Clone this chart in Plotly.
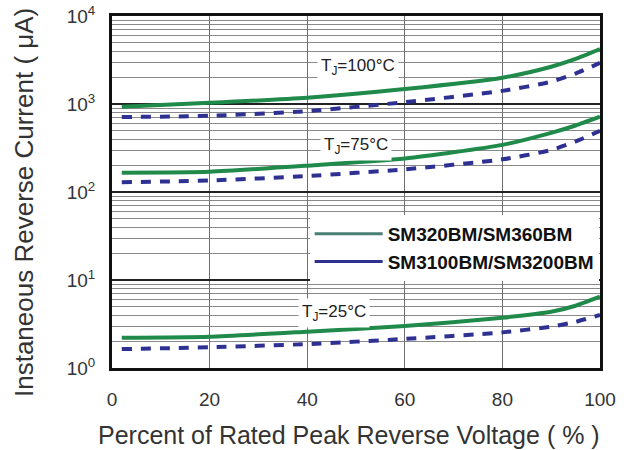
import plotly.graph_objects as go

x_pct = [2, 20, 40, 60, 80, 90, 95, 100]
green_100 = [930, 1030, 1180, 1480, 1990, 2650, 3250, 4200]
blue_100 = [710, 735, 830, 1050, 1410, 1790, 2220, 2930]
green_75 = [166, 170, 199, 240, 343, 470, 570, 718]
blue_75 = [129, 135, 152, 181, 235, 300, 375, 495]
green_25 = [2.21, 2.27, 2.59, 3.0, 3.73, 4.36, 5.1, 6.46]
blue_25 = [1.64, 1.72, 1.87, 2.14, 2.54, 2.95, 3.35, 4.0]

x_ticks = [0, 20, 40, 60, 80, 100]
y_tickvals = [1, 10, 100, 1000, 10000]
y_ticktext = ["10<sup>0</sup>", "10<sup>1</sup>", "10<sup>2</sup>", "10<sup>3</sup>", "10<sup>4</sup>"]
y_minor = [m * 10 ** d for d in range(4) for m in range(2, 10)]
legend_names = ["SM320BM/SM360BM", "SM3100BM/SM3200BM"]
temp_labels = ["T<sub>J</sub>=100°C", "T<sub>J</sub>=75°C", "T<sub>J</sub>=25°C"]
temp_label_x = [50.5, 50, 45.5]
temp_label_y = [3.42, 2.52, 0.62]
x_title = "Percent of Rated Peak Reverse Voltage ( % )"
y_title = "Instaneous Reverse Current ( μA)"

GREEN = "#1f8a4a"
BLUE = "#2e3192"
LEG_GREEN = "#4a7f76"
FONT = "Liberation Sans, Arial"

fig = go.Figure()
for g in [green_100, green_75, green_25]:
    fig.add_trace(go.Scatter(x=x_pct, y=g, mode="lines", line=dict(color=GREEN, width=4, shape="spline", smoothing=0.6),
                             showlegend=False, hoverinfo="skip"))
for b in [blue_100, blue_75, blue_25]:
    fig.add_trace(go.Scatter(x=x_pct, y=b, mode="lines",
                             line=dict(color=BLUE, width=4, dash="10px,9px", shape="spline", smoothing=0.6),
                             showlegend=False, hoverinfo="skip"))
fig.add_trace(go.Scatter(x=[None], y=[None], mode="lines", name=legend_names[0], line=dict(color=LEG_GREEN, width=3)))
fig.add_trace(go.Scatter(x=[None], y=[None], mode="lines", name=legend_names[1], line=dict(color=BLUE, width=3)))

for t, tx, ty in zip(temp_labels, temp_label_x, temp_label_y):
    fig.add_annotation(x=tx, y=ty, xref="x", yref="y", text=t, showarrow=False,
                       bgcolor="white", borderpad=3,
                       font=dict(family=FONT, size=17, color="#222"))

# axis titles as annotations for exact placement
fig.add_annotation(x=0, y=0.5, xref="paper", yref="paper", xanchor="center", yanchor="middle",
                   xshift=-88, yshift=-11, textangle=-90, text=y_title, showarrow=False,
                   font=dict(family=FONT, size=26, color="#333"))
fig.add_annotation(x=0.5, y=0, xref="paper", yref="paper", xanchor="center", yanchor="middle",
                   xshift=-7, yshift=-67, text=x_title, showarrow=False,
                   font=dict(family=FONT, size=25, color="#333"))

fig.update_layout(
    width=634, height=450,
    margin=dict(l=112, r=34, t=16, b=82, autoexpand=False),
    paper_bgcolor="white", plot_bgcolor="white",
    font=dict(family=FONT, color="#333"),
    legend=dict(x=0.405, y=0.435, xanchor="left", yanchor="top", bgcolor="white",
                borderwidth=0, itemwidth=68,
                font=dict(family=FONT, size=19, color="#111", weight="bold"),
                tracegroupgap=0),
    showlegend=True,
)
fig.update_xaxes(range=[0, 100], tickvals=x_ticks, showgrid=True, gridcolor="#6e6e6e", gridwidth=1,
                 zeroline=False, showline=True, linecolor="#111", linewidth=3, mirror=True, automargin=False,
                 ticks="", ticklabelstandoff=12, ticklabeloverflow="allow", tickfont=dict(size=19, color="#333"))
fig.update_yaxes(type="log", range=[0, 4], tickvals=y_tickvals, ticktext=y_ticktext,
                 showgrid=True, gridcolor="#222", gridwidth=2,
                 minor=dict(tickvals=y_minor, showgrid=True, gridcolor="#8a8a8a", gridwidth=1, ticks=""),
                 zeroline=False, showline=True, linecolor="#111", linewidth=3, mirror=True, automargin=False,
                 ticks="", ticklabelstandoff=10, ticklabeloverflow="allow", tickfont=dict(size=19, color="#333"))

# remove the page's default body margin so the 634x450 figure fills the window exactly
fig.write_html("out.html", config={"displayModeBar": False},
               post_script="document.body.style.margin='0';")
